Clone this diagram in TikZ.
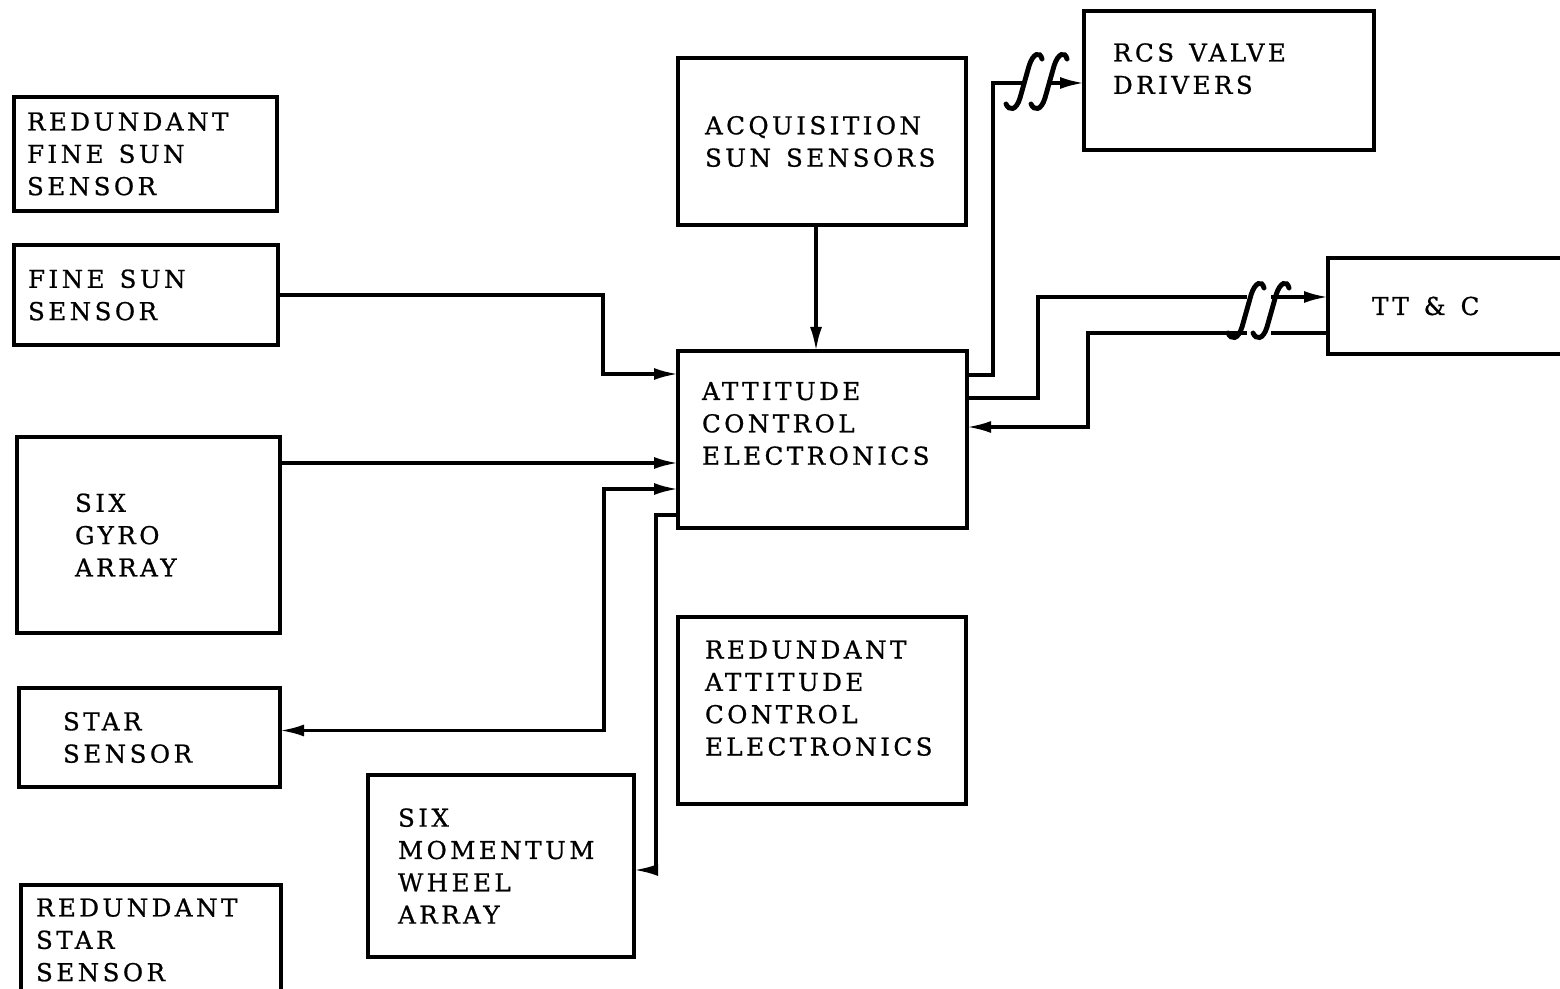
\documentclass[tikz,border=0pt]{standalone}
\usepackage{fontspec}
\setmainfont{DejaVu Serif}[LetterSpace=14, FakeBold=0.8]
\usetikzlibrary{arrows.meta, positioning}
\newcommand{\wgap}{\kern1.5mm}

\begin{document}
\begin{tikzpicture}[
font=\fontsize{7pt}{9.2pt}\selectfont,
box/.style={draw, line width=.9pt, outer sep=0pt, anchor=north west, align=left, inner ysep=0pt},
arrow/.style={-{Latex[length=2.4mm, width=1.2mm]}, line width=.9pt},
biarrow/.style={{Latex[length=2.4mm, width=1.2mm]}-{Latex[length=2.4mm, width=1.2mm]}, line width=.9pt},
brk/.pic={
  \fill[white] (-0.11,-0.3) rectangle (0.13,0.3);
  \foreach \dx in {0,0.25}
    \draw[line width=1.4pt, line cap=round, xshift=\dx cm] (-0.30,-0.22) .. controls (-0.27,-0.29) and (-0.20,-0.29) .. (-0.16,-0.16) -- (-0.07,0.16) .. controls (-0.03,0.29) and (0.04,0.31) .. (0.06,0.23);
}
]
\useasboundingbox (0,0) rectangle (15.6,-9.88);

% sensors on the left
\node[box, inner xsep=1.3mm, text width=2.37cm, minimum height=1.14cm] (rfss) at (0.14,-0.97) {REDUNDANT\\FINE\wgap SUN\\SENSOR};
\node[box, inner xsep=1.4mm, text width=2.36cm, minimum height=1cm, below=3.4mm of rfss.south west, anchor=north west] (fss) {FINE\wgap SUN\\SENSOR};
\node[box, inner xsep=5.8mm, text width=1.47cm, minimum height=1.96cm, below=9.2mm of fss.south west, anchor=north west, xshift=.3mm] (gyro) {SIX\\GYRO\\ARRAY};
\node[box, inner xsep=4.4mm, text width=1.73cm, minimum height=.99cm, below=5.5mm of gyro.south west, anchor=north west, xshift=.2mm] (star) {STAR\\SENSOR};
\node[box, inner xsep=1.5mm, text width=2.3cm, minimum height=1.1cm, below=9.8mm of star.south west, anchor=north west, xshift=.2mm] (rstar) {REDUNDANT\\STAR\\SENSOR};
\node[box, inner xsep=3mm, text width=2.06cm, minimum height=1.82cm] (wheel) at (3.68,-7.75) {SIX\\MOMENTUM\\WHEEL\\ARRAY};

% electronics
\node[box, inner xsep=2.7mm, text width=2.34cm, minimum height=1.67cm] (acq) at (6.78,-0.58) {ACQUISITION\\SUN\wgap SENSORS};
\node[box, inner xsep=2.4mm, text width=2.41cm, minimum height=1.77cm, text height=1.8mm, text depth=9.7mm, below=12.6mm of acq.south west, anchor=north west] (ace) {ATTITUDE\\CONTROL\\ELECTRONICS};
\node[box, inner xsep=2.7mm, text width=2.34cm, minimum height=1.87cm, text height=1.8mm, text depth=12.2mm, below=8.9mm of ace.south west, anchor=north west] (race) {REDUNDANT\\ATTITUDE\\CONTROL\\ELECTRONICS};

% outputs
\node[box, inner xsep=2.9mm, text width=2.32cm, minimum height=1.39cm, text height=1.8mm, text depth=5.6mm] (rcs) at (10.84,-0.11) {RCS\wgap VALVE\\DRIVERS};
\node[box, inner xsep=4.4mm, text width=1.62cm, minimum height=.96cm] (ttc) at (13.28,-2.58) {TT\wgap\&\wgap C};

\draw[arrow] (fss.east) -| ([xshift=-7.5mm,yshift=6.55mm]ace.west) -- ([yshift=6.55mm]ace.west);
\draw[arrow] ([yshift=7.2mm]gyro.east) -- ([yshift=7.2mm]gyro.east -| ace.west);
\draw[biarrow] ([yshift=.7mm]star.east) -| ([xshift=-7.4mm,yshift=-4.95mm]ace.west) -- ([yshift=-4.95mm]ace.west);
\draw[arrow] ([yshift=-7.55mm]ace.west) -| ([xshift=2.2mm,yshift=-.4mm]wheel.east) -- ([yshift=-.4mm]wheel.east);
\draw[arrow] ([xshift=-.6mm]acq.south) -- ([xshift=-.6mm]acq.south |- ace.north);

\draw[arrow] ([yshift=6.45mm]ace.east) -| ([xshift=-9.1mm,yshift=-.25mm]rcs.west) -- ([yshift=-.25mm]rcs.west);
\draw[arrow] ([yshift=4.15mm]ace.east) -| ([xshift=-29mm,yshift=.9mm]ttc.west) -- ([yshift=.9mm]ttc.west);
\draw[arrow] ([yshift=-2.7mm]ttc.west) -| ([xshift=12.1mm,yshift=1.25mm]ace.east) -- ([yshift=1.25mm]ace.east);

\pic at (10.36,-0.82) {brk};
\pic at (12.58,-3.11) {brk};

\end{tikzpicture}
\end{document}
